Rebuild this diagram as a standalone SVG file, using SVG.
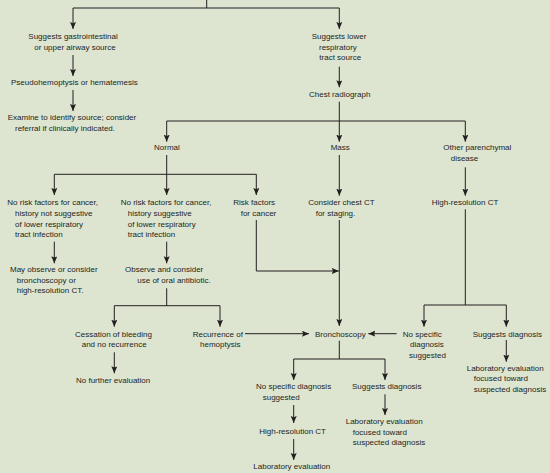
<svg xmlns="http://www.w3.org/2000/svg" width="550" height="473" viewBox="0 0 550 473">
<style>
text{font-family:"Liberation Sans",Arial,sans-serif;font-size:8px;fill:#231f20}
.c{stroke:#231f20;stroke-width:1;fill:none}
.a{marker-end:url(#ah)}
</style>
<defs>
<marker id="ah" markerUnits="userSpaceOnUse" markerWidth="8" markerHeight="7" refX="7" refY="3" orient="auto">
<path d="M0,0 L7,3 L0,6 L1.2,3 z" fill="#231f20"/>
</marker>
</defs>
<rect width="550" height="473" fill="#dde5d1"/>
<g id="connectors">
<path class="c" d="M206.7,0 V8 M73,8 H339.3"/>
<path class="c a" d="M73,8 V29"/>
<path class="c a" d="M339.3,8 V29"/>
<path class="c a" d="M73,55 V76"/>
<path class="c a" d="M73,90 V111"/>
<path class="c a" d="M339.3,66.7 V87.3"/>
<path class="c" d="M166.7,121 H465.3"/>
<path class="c a" d="M339.3,101.7 V141.7"/>
<path class="c a" d="M166.7,121 V141.7"/>
<path class="c a" d="M465.3,121 V141.7"/>
<path class="c" d="M166.7,155 V174.3 M54.3,174.3 H256.3"/>
<path class="c a" d="M54.3,174.3 V195"/>
<path class="c a" d="M166.7,174.3 V195"/>
<path class="c a" d="M256.3,174.3 V195"/>
<path class="c a" d="M339.3,155 V195.7"/>
<path class="c a" d="M465.3,167.3 V195.7"/>
<path class="c a" d="M54.3,241.7 V263.3"/>
<path class="c a" d="M166.7,241.7 V263.3"/>
<path class="c" d="M166.7,288.3 V305.7 M114.3,305.7 H220"/>
<path class="c a" d="M114.3,305.7 V326.7"/>
<path class="c a" d="M220,305.7 V326.7"/>
<path class="c a" d="M256.3,220 V271 H338.8"/>
<path class="c a" d="M339.3,220 V326"/>
<path class="c a" d="M245,333.7 H309"/>
<path class="c a" d="M396.7,333.7 H368.3"/>
<path class="c" d="M465.3,209.3 V305 M424,305 H506.3"/>
<path class="c a" d="M424,305 V326.7"/>
<path class="c a" d="M506.3,305 V326.7"/>
<path class="c a" d="M506.3,340 V361.7"/>
<path class="c a" d="M114.3,352.3 V373.3"/>
<path class="c" d="M339.3,340.7 V359 M293.7,359 H385"/>
<path class="c a" d="M293.7,359 V380"/>
<path class="c a" d="M385,359 V380"/>
<path class="c a" d="M385,394.3 V415"/>
<path class="c a" d="M293.7,405 V423"/>
<path class="c a" d="M293.7,439 V460"/>
</g>
<g id="n1"><text x="28.3" y="39">Suggests gastrointestinal</text><text x="34.3" y="50">or upper airway source</text></g>
<g id="n2"><text x="11" y="85">Pseudohemoptysis or hematemesis</text></g>
<g id="n3"><text x="7.7" y="120">Examine to identify source; consider</text><text x="15" y="130.5">referral if clinically indicated.</text></g>
<g id="n4"><text x="311.7" y="39">Suggests lower</text><text x="319" y="49.5">respiratory</text><text x="319.3" y="60">tract source</text></g>
<g id="n5"><text x="309" y="97">Chest radiograph</text></g>
<g id="n6"><text x="154" y="150">Normal</text></g>
<g id="n7"><text x="330.7" y="150">Mass</text></g>
<g id="n8"><text x="443.3" y="150">Other parenchymal</text><text x="450.7" y="160.5">disease</text></g>
<g id="n9"><text x="7.3" y="205.3">No risk factors for cancer,</text><text x="15" y="216">history not suggestive</text><text x="15" y="226.7">of lower respiratory</text><text x="15" y="237.3">tract infection</text></g>
<g id="n10"><text x="120.7" y="205.3">No risk factors for cancer,</text><text x="127.7" y="216">history suggestive</text><text x="127.7" y="226.7">of lower respiratory</text><text x="127.7" y="237.3">tract infection</text></g>
<g id="n11"><text x="233.3" y="205.3">Risk factors</text><text x="240.7" y="216">for cancer</text></g>
<g id="n12"><text x="308.3" y="205.3">Consider chest CT</text><text x="315.7" y="216">for staging.</text></g>
<g id="n13"><text x="431.7" y="205.3">High-resolution CT</text></g>
<g id="n14"><text x="10" y="272">May observe or consider</text><text x="16.7" y="282.7">bronchoscopy or</text><text x="16.7" y="293.3">high-resolution CT.</text></g>
<g id="n15"><text x="125" y="272">Observe and consider</text><text x="137.3" y="282.7">use of oral antibiotic.</text></g>
<g id="n16"><text x="75" y="336.7">Cessation of bleeding</text><text x="81.7" y="347.3">and no recurrence</text></g>
<g id="n17"><text x="192.7" y="336.7">Recurrence of</text><text x="200" y="347.3">hemoptysis</text></g>
<g id="n18"><text x="315" y="336.7">Bronchoscopy</text></g>
<g id="n19"><text x="402.7" y="336.7">No specific</text><text x="410" y="347.3">diagnosis</text><text x="409" y="358">suggested</text></g>
<g id="n20"><text x="472.7" y="336.7">Suggests diagnosis</text></g>
<g id="n21"><text x="466.7" y="370.7">Laboratory evaluation</text><text x="473.7" y="381.3">focused toward</text><text x="473.7" y="392">suspected diagnosis</text></g>
<g id="n22"><text x="76" y="382.7">No further evaluation</text></g>
<g id="n23"><text x="256" y="389.3">No specific diagnosis</text><text x="262.7" y="400">suggested</text></g>
<g id="n24"><text x="352" y="389.3">Suggests diagnosis</text></g>
<g id="n25"><text x="345.7" y="424">Laboratory evaluation</text><text x="352.7" y="434.7">focused toward</text><text x="352.7" y="445.3">suspected diagnosis</text></g>
<g id="n26"><text x="259.3" y="434">High-resolution CT</text></g>
<g id="n27"><text x="253.3" y="469">Laboratory evaluation</text></g>
</svg>
